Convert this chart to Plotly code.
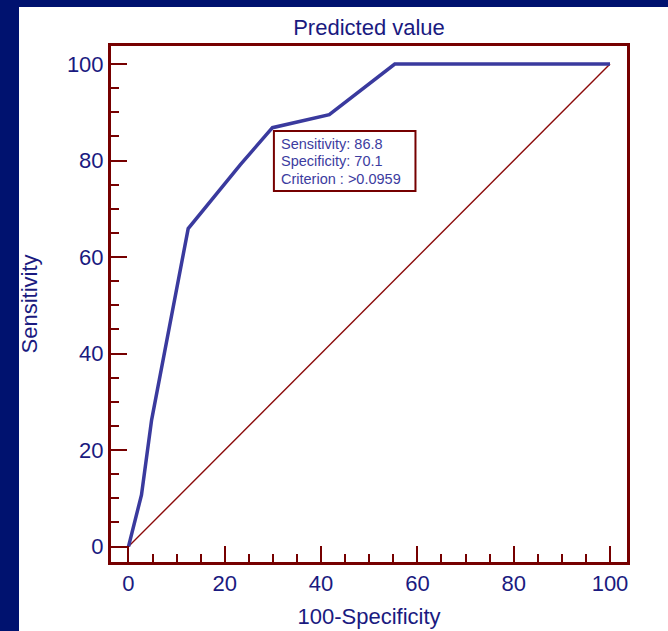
import plotly.graph_objects as go

# ROC curve for the predicted value
fpr = [0, 2.7, 4.8, 12.4, 23.2, 29.9, 41.7, 55.3, 100]      # 100-Specificity
tpr = [0, 10.7, 26.2, 65.9, 79.1, 86.8, 89.5, 100, 100]    # Sensitivity
ref_x = [0, 100]
ref_y = [0, 100]

tick_vals = [0, 20, 40, 60, 80, 100]
tick_text = ["0", "20", "40", "60", "80", "100"]

best_sens = 86.8
best_spec = 70.1
best_crit = ">0.0959"

AXIS_RED = "#760000"
NAVY = "#1a1a80"
CURVE = "#3a3a9e"
BAND = "#00126f"
FONT = "Liberation Sans, Arial"

W, H = 668, 631
ML, MR, MT, MB = 111, 41, 46, 69
PW, PH = W - ML - MR, H - MT - MB

fig = go.Figure()
fig.add_trace(go.Scatter(x=ref_x, y=ref_y, mode="lines",
                         line=dict(color="#8b0a0a", width=1.4),
                         hoverinfo="skip", showlegend=False))
fig.add_trace(go.Scatter(x=fpr, y=tpr, mode="lines",
                         line=dict(color=CURVE, width=3.5),
                         showlegend=False))

axis_common = dict(
    showline=True, linecolor=AXIS_RED, linewidth=3, mirror=True,
    ticks="inside", ticklen=16, tickwidth=2, tickcolor=AXIS_RED,
    tickvals=tick_vals, ticktext=tick_text,
    minor=dict(dtick=5, tick0=0, ticks="inside", ticklen=8,
               tickwidth=2, tickcolor=AXIS_RED),
    showgrid=False, zeroline=False,
    tickfont=dict(family=FONT, size=22, color=NAVY),
)

fig.update_xaxes(range=[-3.63, 103.53], **axis_common,
                 title=dict(text="100-Specificity", standoff=14,
                            font=dict(family=FONT, size=22, color=NAVY)))
fig.update_yaxes(range=[-3.2, 103.73], **axis_common,
                 title=dict(text="Sensitivity", standoff=24,
                            font=dict(family=FONT, size=22, color=NAVY)))

# criterion summary box next to the optimal cut-off point
bx0, by1 = fpr[5] + 0.3, tpr[5] - 0.7
fig.add_shape(type="rect", xref="x", yref="y",
              x0=bx0, x1=bx0 + 29.4, y0=by1 - 12.4, y1=by1,
              line=dict(color=AXIS_RED, width=2), fillcolor="white")
box_lines = [f"Sensitivity: {best_sens}",
             f"Specificity: {best_spec}",
             f"Criterion : {best_crit}"]
for i, line in enumerate(box_lines):
    fig.add_annotation(
        x=bx0 + 1.1, y=by1 - 2.7 - 3.6 * i, xref="x", yref="y",
        xanchor="left", yanchor="middle", showarrow=False,
        text=line, font=dict(family=FONT, size=14.5, color="#3c3ca0"),
    )

# navy frame strips on the left and top edges of the page
fig.add_shape(type="rect", xref="paper", yref="paper", layer="below",
              x0=(0 - ML) / PW, x1=(19 - ML) / PW,
              y0=-MB / PH, y1=1 + MT / PH,
              fillcolor=BAND, line=dict(width=0))
fig.add_shape(type="rect", xref="paper", yref="paper", layer="below",
              x0=(0 - ML) / PW, x1=1 + MR / PW,
              y0=1 + (MT - 7) / PH, y1=1 + MT / PH,
              fillcolor=BAND, line=dict(width=0))

fig.update_layout(
    width=W, height=H,
    margin=dict(l=ML, r=MR, t=MT, b=MB, autoexpand=False),
    paper_bgcolor="white", plot_bgcolor="white",
    title=dict(text="Predicted value", x=0.5, xref="paper",
               y=1 - 27 / H, yref="container", yanchor="middle",
               font=dict(family=FONT, size=22, color=NAVY)),
)

fig.write_html("out.html")
